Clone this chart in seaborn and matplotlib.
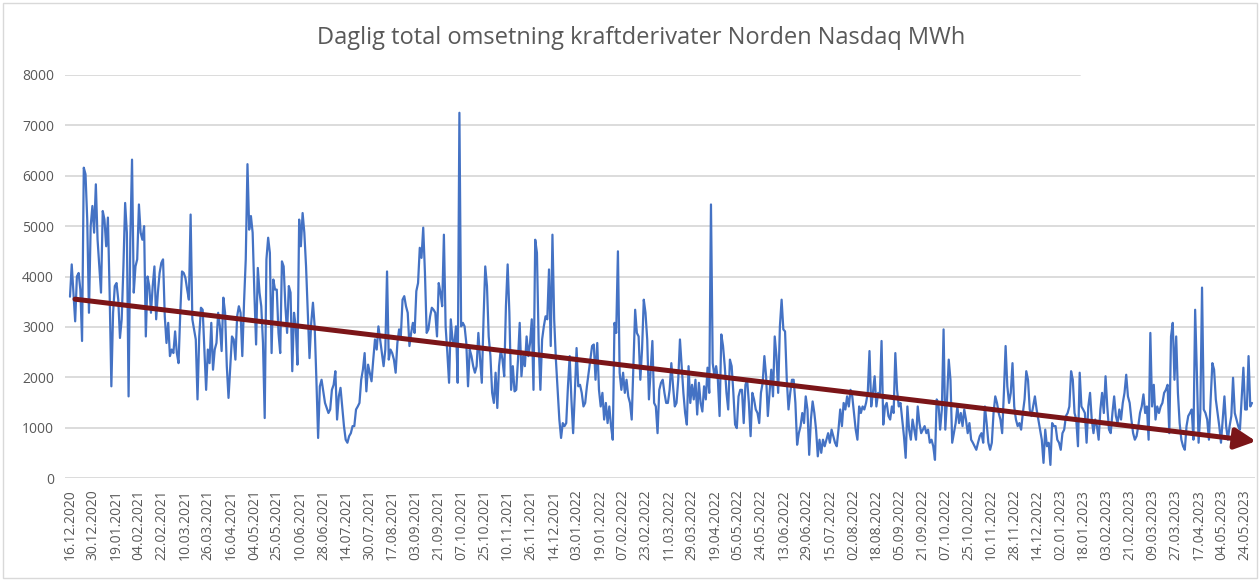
import numpy as np
import pandas as pd
import matplotlib
matplotlib.use("Agg")
import matplotlib.pyplot as plt
import seaborn as sns
from matplotlib.patches import Rectangle

# ---------------- data (MWh per trading day) -------------
seg1 = [3600, 4240, 3680, 3110, 4000, 4070, 3740, 2720, 6160, 6030, 5130, 3280, 5000, 5400,
        4870, 5830, 4730, 4200, 3680, 5300, 5130, 4600, 5170, 3680, 1820, 3280, 3810, 3870,
        3540, 2780, 3150, 4200, 5460, 4870, 1620, 4730, 6320, 3680, 4200, 4340, 5430, 4870,
        4730, 5000, 2810, 4000, 3810, 3280, 3810, 4200, 3150, 3680, 4070, 4270, 4340, 3210,
        2680, 3080, 2420, 2550, 2480, 2910, 2480, 2280, 3280, 4100, 4070, 3970, 3740, 3540,
        5230, 3150, 2950, 2750, 1560, 2810, 3380, 3340, 2550, 1750, 2550, 2280]
seg2 = [3080, 2150, 2550, 2680, 3280, 3010, 2520, 3580, 3280, 2220, 1590, 2220, 2810, 2750,
        2350, 3210, 3410, 3280, 2420, 3480, 4340, 6230, 4930, 5200, 4870, 3680, 2650, 4170,
        3680, 3410, 2680, 1190, 4340, 4770, 4470, 2480, 3940, 3740, 3740, 2880, 2480, 4300,
        4200, 3410, 2880, 3810, 3680, 2120, 3280, 3010, 2250, 5130, 4600, 5260, 4870, 4200,
        3280, 2380, 3080, 3480, 3010, 1950, 795, 1820, 1950, 1720, 1490, 1390, 1290, 1360,
        1750, 1850, 2120, 1160, 1620, 1790, 1420, 1030, 760, 700, 830, 890, 1030, 1030, 1360]
seg3 = [1420, 1490, 1950, 2150, 2480, 1720, 2250, 2090, 1920, 2350, 2750, 2550, 3010, 2750,
        2480, 2220, 2550, 4100, 2350, 2550, 2480, 2350, 2090, 2680, 2950, 2810, 3540, 3610,
        3410, 3280, 2620, 2880, 3080, 2880, 3710, 3870, 4570, 4370, 4970, 4070, 2880, 2950,
        3210, 3380, 3340, 3280, 2810, 3870, 3680, 3410, 4830, 3010, 2480, 1890, 3150, 2750,
        2620, 3010, 1890, 7250, 3010, 3080, 3010, 2680, 1820, 2550, 2420, 2220, 2090, 2220,
        2880, 2350, 1890, 3150, 4200, 3810, 2810, 2420, 1690, 1490, 2090, 1390, 2220, 2550,
        2350, 2020, 3410]
seg4 = [4240, 3280, 1750, 2220, 1720, 1750, 2350, 3080, 2020, 2420, 2220, 2810, 2420, 2680,
        3150, 1750, 4730, 4470, 2680, 1750, 2750, 3010, 3210, 3150, 4140, 2620, 4830, 3150,
        2350, 1750, 1160, 795, 1090, 1030, 1090, 1820, 2420, 1560, 890, 1690, 2580, 1820,
        1850, 1690, 1420, 1490, 1820, 2090, 2350, 2620, 2650, 1950, 2680, 1750, 1420, 1690,
        1160, 1490, 1090, 1420, 1030, 760, 3080, 2880, 4500, 2090, 1750, 2090, 1690, 1950,
        1620, 1490, 1160, 2220, 3340, 2880, 2810, 1950, 2550, 3540, 3280, 2750, 1560, 2150,
        2720]
seg5 = [1490, 1420, 890, 1750, 1890, 1950, 1690, 1490, 1490, 1750, 2280, 1820, 1420, 1490,
        1950, 2750, 2220, 1690, 1290, 1060, 2220, 1490, 1850, 1560, 1950, 1260, 1890, 1490,
        1320, 1820, 1560, 2190, 1690, 5430, 2280, 2020, 2220, 1950, 1230, 2850, 2620, 2220,
        1690, 1360, 2350, 2220, 1690, 1060, 990, 1620, 1750, 1750, 1090, 1850, 1950, 1490,
        830, 1690, 1560, 1360, 1290, 1090, 1690, 1890, 2420, 2020, 1230, 1690, 2150, 1620,
        2810, 2420, 1690, 3010, 3540, 2950, 2910, 1950, 1360, 1690, 1950, 1950, 1490, 660,
        890, 1030]
seg6 = [1290, 1090, 1620, 1360, 460, 1160, 1520, 1290, 960, 430, 760, 500, 760, 630, 760,
        890, 700, 960, 830, 700, 630, 960, 1360, 1030, 1490, 1360, 1620, 1420, 1750, 1620,
        1290, 960, 760, 1420, 1290, 1420, 1360, 1490, 1690, 2520, 1420, 1690, 2020, 1420,
        1690, 1620, 2720, 1060, 1420, 1490, 1230, 1160, 1420, 1290, 2480, 1750, 1420, 1490,
        1160, 830, 400, 1420, 960, 760, 1160, 960, 760, 1420, 1090, 890, 960, 1030, 890, 960,
        700, 760, 630, 360, 1560, 1490, 960, 1360, 2950, 960, 1560, 2350, 1950, 700]
seg7 = [890, 1090, 1420, 1090, 1290, 1030, 1360, 1160, 890, 1090, 760, 700, 630, 560, 700,
        830, 890, 700, 1420, 1090, 700, 560, 700, 1290, 1620, 1490, 1290, 1160, 890, 1690,
        2620, 1820, 1490, 1690, 2280, 1420, 1160, 1030, 1090, 960, 1290, 1560, 2120, 1950,
        1360, 1230, 1420, 1620, 1360, 1160, 960, 760, 300, 960, 630, 700, 260, 1090, 1030,
        1030, 760, 700, 560, 890, 960, 1230, 1290, 1420, 2120, 1950, 1290, 1160, 630, 2090,
        1420, 1360, 1290, 700, 1420, 1690, 1160, 890, 1160, 1030, 760, 1360, 1690, 1290, 2020]
seg8 = [1420, 960, 890, 1290, 1620, 1230, 1090, 1360, 1160, 1490, 1690, 2050, 1620, 1490,
        1160, 890, 760, 830, 1030, 1290, 1420, 1660, 1290, 1420, 760, 2880, 1420, 1850, 1160,
        1420, 1290, 1420, 1490, 1690, 1750, 1850, 890, 2810, 3080, 1950, 2810, 1690, 1090,
        760, 630, 560, 1030, 1230, 1290, 1360, 760, 3340, 2090, 700, 1290, 3780, 1360, 1290,
        1160, 760, 1560, 2280, 2150, 1560, 1290, 1030, 700, 1160, 1620, 1030, 760, 1030,
        1230, 1990, 1290, 1160, 1030, 960, 1560, 2190, 1360, 1360, 2420, 1420, 1490]

tick_labels = ["16.12.2020", "30.12.2020", "19.01.2021", "04.02.2021", "22.02.2021",
               "10.03.2021", "26.03.2021", "16.04.2021", "04.05.2021", "25.05.2021",
               "10.06.2021", "28.06.2021", "14.07.2021", "30.07.2021", "17.08.2021",
               "03.09.2021", "21.09.2021", "07.10.2021", "25.10.2021", "10.11.2021",
               "26.11.2021", "14.12.2021", "03.01.2022", "19.01.2022", "07.02.2022",
               "23.02.2022", "11.03.2022", "29.03.2022", "19.04.2022", "05.05.2022",
               "24.05.2022", "13.06.2022", "29.06.2022", "15.07.2022", "02.08.2022",
               "18.08.2022", "05.09.2022", "21.09.2022", "07.10.2022", "25.10.2022",
               "10.11.2022", "28.11.2022", "14.12.2022", "02.01.2023", "18.01.2023",
               "03.02.2023", "21.02.2023", "09.03.2023", "27.03.2023", "17.04.2023",
               "04.05.2023", "24.05.2023"]

trend_values = [3550, 730]   # start / end of the hand-drawn trend arrow

title = "Daglig total omsetning kraftderivater Norden Nasdaq MWh"

# ---------------- build frame ----------------
values = seg1 + seg2 + seg3 + seg4 + seg5 + seg6 + seg7 + seg8
df = pd.DataFrame({"idx": np.arange(len(values)), "MWh": values})
N = len(values)

# ---------------- style ----------------
sns.set_style("white")
plt.rcParams["font.family"] = ["Open Sans", "DejaVu Sans"]
TXT = "#595959"
GRID = "#D9D9D9"

W, H = 1260, 581
fig = plt.figure(figsize=(W / 100, H / 100), dpi=100)
ax_l, ax_r, ax_t, ax_b = 65, 1255, 75, 478
ax = fig.add_axes([ax_l / W, 1 - ax_b / H, (ax_r - ax_l) / W, (ax_b - ax_t) / H])

# pixel geometry of the data: first point at x=70, last at x=1252
x_first, x_last = 70, 1252
ppp = (x_last - x_first) / (N - 1)
ax.set_xlim(-(x_first - ax_l) / ppp, (N - 1) + (ax_r - x_last) / ppp)
ax.set_ylim(0, 8000)

# gridlines
for v in range(0, 8000, 1000):
    ax.axhline(v, color=GRID, lw=1.3, zorder=0)
ax.axhline(8000, xmin=0, xmax=(1080 - ax_l) / (ax_r - ax_l), color=GRID, lw=1.3, zorder=0)

sns.lineplot(data=df, x="idx", y="MWh", ax=ax, color="#4472C4", lw=1.6, zorder=3)

# trend arrow
x0 = (75 - x_first) / ppp
x1 = (1256 - x_first) / ppp
ax.annotate("", xy=(x1, trend_values[1]), xytext=(x0, trend_values[0]),
            arrowprops=dict(arrowstyle="-|>,head_length=0.9,head_width=0.45",
                            color="#7B1518", lw=3.6, mutation_scale=14,
                            shrinkA=0, shrinkB=0),
            annotation_clip=False, zorder=4)

# ticks
label_step = 23.04 / ppp
ax.set_xticks(np.arange(len(tick_labels)) * label_step)
ax.set_xticklabels(tick_labels, rotation=90, fontsize=10, color=TXT)
ax.set_yticks(range(0, 8001, 1000))
ax.set_yticklabels([str(v) for v in range(0, 8001, 1000)], fontsize=10, color=TXT)
ax.tick_params(axis="both", length=0)
ax.tick_params(axis="x", pad=8)
ax.tick_params(axis="y", pad=8)
ax.set_xlabel("")
ax.set_ylabel("")
for s in ax.spines.values():
    s.set_visible(False)

fig.text(641 / W, 1 - 38 / H, title, ha="center", va="center", fontsize=17, color=TXT)

# chart border
fig.patches.append(Rectangle((3 / W, 3 / H), (W - 6) / W, (H - 6) / H, transform=fig.transFigure,
                             fill=False, edgecolor=GRID, lw=1))

fig.savefig("out.png", dpi=100)
